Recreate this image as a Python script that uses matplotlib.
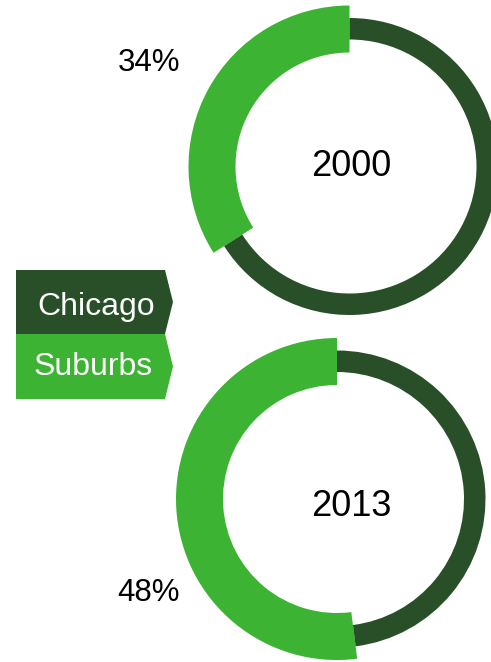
#donut chart: Chicago vs suburbs share, 2000 and 2013

import matplotlib
matplotlib.use("Agg")
from matplotlib import pyplot as plt
from matplotlib.patches import Polygon

plt.rcParams['font.family'] = ['Liberation Sans', 'DejaVu Sans']

years = ['2000', '2013']
suburbs = [34, 52]          # share of the ring drawn light green
chicago = [66, 48]
pct_labels = ['34%', '48%'] # labels printed beside each ring
series = ['Chicago', 'Suburbs']

dark = '#284f28'
light = '#3cb333'

W, H = 491, 662
fig = plt.figure(figsize=(W / 100, H / 100), dpi=100)
ax = fig.add_axes([0, 0, 1, 1])

# positions in pixels (y measured from the top of the picture)
centers = [(349.5, 166.5), (337, 499)]
year_pos = [(351, 176), (351, 516)]      # baseline of the year text
pct_pos = [(149, 71), (149, 601)]        # baseline of percent text

for i in range(len(years)):
    vals = [suburbs[i], chicago[i]]
    c = (centers[i][0], H - centers[i][1])
    # thin dark ring underneath
    ax.pie(vals, colors=[light, dark], radius=148.5, center=c,
           startangle=90, counterclock=True,
           wedgeprops=dict(width=21.5, linewidth=0))
    # thick light arc on top
    ax.pie(vals, colors=[light, 'none'], radius=161, center=c,
           startangle=90, counterclock=True,
           wedgeprops=dict(width=47, linewidth=0))
    ax.text(year_pos[i][0], H - year_pos[i][1], years[i], fontsize=26,
            ha='center', va='baseline', color='black')
    ax.text(pct_pos[i][0], H - pct_pos[i][1], pct_labels[i], fontsize=22.5,
            ha='center', va='baseline', color='black')

# legend tags with arrow tips
tag_x0, tag_x1, tag_tip = 16, 165, 173
tag_tops = [270, 334]
tag_h = [64, 65]
text_x = [96.5, 93.5]
text_base = [315, 375]
for name, col, top, h, tx, tb in zip(series, [dark, light], tag_tops, tag_h, text_x, text_base):
    y0 = H - top
    y1 = H - top - h
    ym = (y0 + y1) / 2
    poly = Polygon([(tag_x0, y0), (tag_x1, y0), (tag_tip, ym), (tag_x1, y1), (tag_x0, y1)],
                   closed=True, facecolor=col, edgecolor='none')
    ax.add_patch(poly)
    ax.text(tx, H - tb, name, fontsize=23, color='white', ha='center', va='baseline')

ax.set_xlim(0, W)
ax.set_ylim(0, H)
ax.set_aspect('auto')
ax.axis('off')

fig.savefig('out.png', dpi=100)
